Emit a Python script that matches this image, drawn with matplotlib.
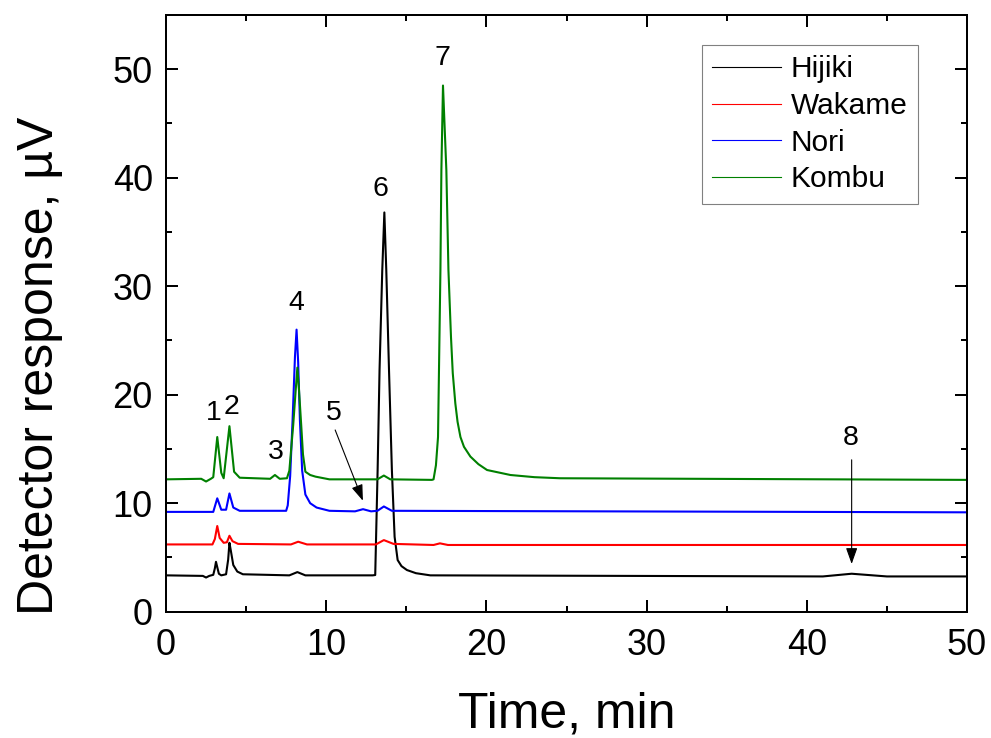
import matplotlib
matplotlib.use("Agg")
from matplotlib import pyplot as plt
from matplotlib.ticker import MultipleLocator

plt.rcParams['font.family'] = ['Liberation Sans', 'DejaVu Sans']

# chromatogram points (time in min, response in uV)
hijiki_t = [0, 2.3, 2.5, 2.7, 2.95, 3.05, 3.12, 3.2, 3.3, 3.45, 3.75, 3.88, 3.96, 4.05, 4.2, 4.45,
            4.8, 7.7, 8.2, 8.7, 12.9, 13.06, 13.21, 13.33, 13.5, 13.63, 13.75, 13.92, 14.1, 14.27,
            14.46, 14.7, 15.04, 15.6, 16.5, 41.0, 42.8, 45.0, 50]
hijiki_y = [3.35, 3.3, 3.15, 3.3, 3.4, 4.0, 4.6, 4.1, 3.5, 3.35, 3.45, 4.8, 6.35, 5.6, 4.3, 3.7,
            3.45, 3.35, 3.65, 3.35, 3.35, 3.38, 13.06, 22.3, 31.5, 36.8, 31.5, 22.3, 13.06, 6.9,
            4.76, 4.2, 3.84, 3.55, 3.35, 3.25, 3.5, 3.25, 3.25]

wakame_t = [0, 2.9, 3.05, 3.2, 3.35, 3.6, 3.8, 3.96, 4.15, 4.5, 7.8, 8.25, 8.8, 13.1, 13.6, 14.2,
            16.7, 17.1, 17.6, 50]
wakame_y = [6.2, 6.2, 6.7, 7.9, 6.8, 6.35, 6.4, 7.0, 6.5, 6.25, 6.2, 6.45, 6.2, 6.2, 6.6, 6.25,
            6.15, 6.3, 6.15, 6.15]

nori_t = [0, 2.95, 3.2, 3.45, 3.75, 3.96, 4.2, 4.6, 7.5, 7.6, 7.75, 7.9, 8.05, 8.15, 8.25, 8.36,
          8.5, 8.7, 9.0, 9.4, 10.2, 11.8, 12.3, 12.8, 13.2, 13.6, 14.1, 50]
nori_y = [9.2, 9.2, 10.45, 9.4, 9.4, 10.9, 9.6, 9.3, 9.3, 9.8, 12.5, 17.6, 23.5, 26.0, 23.0, 17.6,
          13.0, 10.8, 10.0, 9.6, 9.3, 9.25, 9.45, 9.25, 9.3, 9.7, 9.3, 9.16]

kombu_t = [0, 2.2, 2.5, 2.8, 2.95, 3.2, 3.45, 3.6, 3.96, 4.25, 4.6, 6.5, 6.8, 7.1, 7.55, 7.7, 7.94,
           8.1, 8.2, 8.3, 8.44, 8.55, 8.7, 9.0, 9.33, 10.2, 13.2, 13.6, 14.0, 16.6, 16.7, 16.85,
           16.98, 17.13, 17.19, 17.29, 17.5, 17.63, 17.79, 17.9, 18.06, 18.2, 18.38, 18.6, 19.0,
           19.5, 20.04, 21.5, 23.0, 24.6, 50]
kombu_y = [12.2, 12.25, 12.0, 12.25, 12.4, 16.1, 12.8, 12.3, 17.1, 12.9, 12.35, 12.25, 12.6, 12.25,
           12.3, 13.0, 17.2, 20.5, 22.5, 20.5, 17.2, 14.5, 12.9, 12.6, 12.45, 12.2, 12.2, 12.55,
           12.2, 12.15, 12.2, 13.5, 16.1, 31.5, 40.7, 48.5, 40.7, 31.5, 25.3, 22.0, 19.2, 17.5,
           16.1, 15.2, 14.3, 13.6, 13.06, 12.6, 12.4, 12.3, 12.15]

series_names = ['Hijiki', 'Wakame', 'Nori', 'Kombu']
series_colors = ['#000000', '#ff0000', '#0000ff', '#008000']

# peak numbers: label, x, y
peak_labels = ['1', '2', '3', '4', '5', '6', '7', '8']
peak_label_x = [2.96, 4.1, 6.85, 8.15, 10.48, 13.4, 17.23, 42.75]
peak_label_y = [18.3, 18.9, 14.75, 28.5, 18.35, 39.0, 51.0, 16.0]

# arrows for peaks 5 and 8: (start, tip)
arrow_starts = [(10.56, 16.75), (42.8, 14.0)]
arrow_tips = [(12.29, 10.23), (42.8, 4.4)]

fig = plt.figure(figsize=(9.91, 7.38), dpi=100)
ax = fig.add_axes([166 / 991, 1 - 611.7 / 738, 801 / 991, 596.7 / 738])

traces = [(hijiki_t, hijiki_y), (wakame_t, wakame_y), (nori_t, nori_y), (kombu_t, kombu_y)]
for (t, y), name, c in zip(traces, series_names, series_colors):
    ax.plot(t, y, color=c, lw=1.5, label=name)

for lab, x, y in zip(peak_labels, peak_label_x, peak_label_y):
    ax.text(x, y, lab, fontsize=20.5, ha='center', va='center')

for start, tip in zip(arrow_starts, arrow_tips):
    ax.annotate('', xy=tip, xytext=start,
                arrowprops=dict(arrowstyle='-|>,head_length=0.7,head_width=0.25',
                                color='black', lw=0.8, mutation_scale=14,
                                shrinkA=0, shrinkB=0))

ax.set_xlim(0, 50)
ax.set_ylim(0, 55)
ax.xaxis.set_major_locator(MultipleLocator(10))
ax.xaxis.set_minor_locator(MultipleLocator(5))
ax.yaxis.set_major_locator(MultipleLocator(10))
ax.yaxis.set_minor_locator(MultipleLocator(5))
ax.tick_params(which='both', direction='in', top=True, right=True, width=1.44, labelsize=26)
ax.tick_params(which='major', length=8.6)
ax.tick_params(which='minor', length=4.3)
ax.tick_params(axis='x', pad=12)
ax.tick_params(axis='y', pad=9.5)
for sp in ax.spines.values():
    sp.set_linewidth(1.44)

ax.set_xlabel('Time, min', fontsize=36, va='top')
ax.xaxis.set_label_coords(0.5, -0.134)
ax.set_ylabel('Detector response, µV', fontsize=36)
ax.yaxis.set_label_coords(-0.129, 0.412)

leg = ax.legend(loc='upper right', bbox_to_anchor=((918 - 166) / 801, 1 - (45 - 15) / 596.7),
                borderaxespad=0, fontsize=21.5, fancybox=False, framealpha=1,
                edgecolor='#808080', borderpad=0.35, labelspacing=0.29,
                handlelength=2.3, handletextpad=0.33)
leg.get_frame().set_linewidth(0.8)
for line in leg.get_lines():
    line.set_linewidth(0.8)

fig.savefig('out.png', dpi=100)
